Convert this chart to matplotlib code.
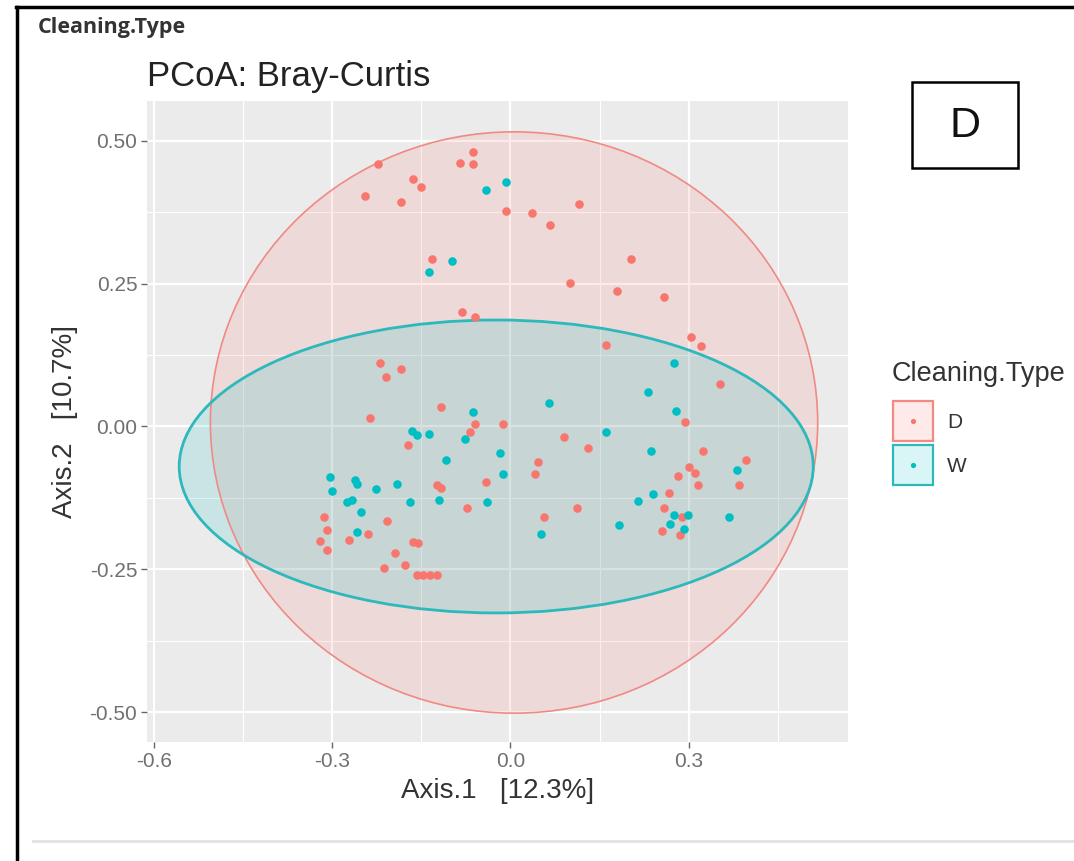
import matplotlib
matplotlib.use("Agg")
import matplotlib.pyplot as plt
from matplotlib.patches import Ellipse, Rectangle
from matplotlib.lines import Line2D

plt.rcParams['font.family'] = ['Liberation Sans', 'DejaVu Sans']

# PCoA coordinates per cleaning type
d_x = [-0.223, -0.085, -0.063, -0.063, -0.164, -0.150, -0.245, -0.184, -0.132, -0.081,
       -0.059, -0.007, 0.037, 0.066, 0.115, 0.203, 0.101, 0.179, 0.259, 0.304,
       0.321, 0.161, -0.220, -0.184, -0.210, -0.117, -0.059, -0.068, -0.237, -0.172,
       -0.042, -0.123, -0.117, -0.073, -0.314, -0.309, -0.321, -0.309, -0.272, -0.240,
       -0.208, -0.164, -0.155, -0.194, -0.177, -0.213, -0.157, -0.147, -0.135, -0.123,
       0.353, 0.294, -0.012, 0.090, 0.130, 0.324, 0.046, 0.041, 0.396, 0.385,
       0.301, 0.311, 0.282, 0.316, 0.267, 0.259, 0.289, 0.255, 0.286, 0.112,
       0.056]
d_y = [0.460, 0.461, 0.481, 0.460, 0.433, 0.419, 0.404, 0.393, 0.293, 0.200,
       0.192, 0.377, 0.374, 0.353, 0.390, 0.293, 0.251, 0.237, 0.227, 0.157,
       0.141, 0.143, 0.111, 0.101, 0.087, 0.034, 0.004, -0.010, 0.015, -0.032,
       -0.097, -0.102, -0.108, -0.143, -0.159, -0.181, -0.201, -0.216, -0.199, -0.188,
       -0.166, -0.202, -0.204, -0.222, -0.243, -0.248, -0.260, -0.260, -0.260, -0.260,
       0.074, 0.008, 0.004, -0.018, -0.038, -0.043, -0.062, -0.083, -0.059, -0.102,
       -0.071, -0.082, -0.087, -0.102, -0.117, -0.143, -0.159, -0.183, -0.190, -0.143,
       -0.159]

w_x = [-0.042, -0.098, -0.137, -0.007, -0.063, -0.076, -0.166, -0.157, -0.137, -0.108,
       -0.017, -0.012, -0.304, -0.301, -0.262, -0.259, -0.226, -0.191, -0.275, -0.267,
       -0.252, -0.169, -0.120, -0.039, -0.259, 0.275, 0.231, 0.064, 0.279, 0.161,
       0.237, 0.382, 0.240, 0.215, 0.275, 0.299, 0.269, 0.292, 0.368, 0.183,
       0.052]
w_y = [0.414, 0.290, 0.271, 0.428, 0.025, -0.022, -0.008, -0.015, -0.013, -0.059,
       -0.046, -0.083, -0.088, -0.113, -0.094, -0.101, -0.109, -0.101, -0.132, -0.129,
       -0.150, -0.132, -0.129, -0.132, -0.185, 0.111, 0.060, 0.041, 0.027, -0.010,
       -0.043, -0.076, -0.118, -0.130, -0.155, -0.155, -0.171, -0.180, -0.159, -0.173,
       -0.188]

# group ellipses: centre, full width, full height
d_ellipse = [(0.006, 0.007), 1.022, 1.018]
w_ellipse = [(-0.024, -0.070), 1.067, 0.513]

groups = ['D', 'W']
colors = {'D': '#F8766D', 'W': '#00BFC4'}
edge_colors = {'D': '#F08A84', 'W': '#2DB8BB'}

x_ticks = [-0.6, -0.3, 0.0, 0.3]
x_labels = ['-0.6', '-0.3', '0.0', '0.3']
y_ticks = [-0.50, -0.25, 0.00, 0.25, 0.50]
y_labels = ['-0.50', '-0.25', '0.00', '0.25', '0.50']

W, H = 1074, 861
fig = plt.figure(figsize=(W / 100, H / 100), dpi=100)
fig.patch.set_facecolor('white')

ax = fig.add_axes([147 / W, 1 - 742 / H, (848 - 147) / W, (742 - 101) / H])
ax.set_facecolor('#EBEBEB')
ax.set_xlim(-0.6117, 0.568)
ax.set_ylim(-0.5525, 0.570)
for s in ax.spines.values():
    s.set_visible(False)

ax.set_xticks(x_ticks)
ax.set_xticklabels(x_labels)
ax.set_yticks(y_ticks)
ax.set_yticklabels(y_labels)
ax.set_xticks([-0.45, -0.15, 0.15, 0.45], minor=True)
ax.set_yticks([-0.375, -0.125, 0.125, 0.375], minor=True)
ax.grid(which='major', color='white', linewidth=1.6)
ax.grid(which='minor', color='white', linewidth=0.8)
ax.set_axisbelow(True)
ax.tick_params(which='major', length=4, width=1, color='#666666',
               labelsize=15, labelcolor='#707070', pad=3)
ax.tick_params(which='minor', length=0)

# ellipses (filled polygons, drawn under the points)
for (c, w, h), g, lw in [(d_ellipse, 'D', 1.2), (w_ellipse, 'W', 2.0)]:
    ax.add_patch(Ellipse(c, w, h, facecolor=colors[g], alpha=0.15,
                         edgecolor='none', zorder=2))
    ax.add_patch(Ellipse(c, w, h, facecolor='none', edgecolor=edge_colors[g],
                         linewidth=lw, zorder=2.5))

ax.scatter(d_x, d_y, s=38, color=colors['D'], linewidths=0, zorder=3)
ax.scatter(w_x, w_y, s=38, color=colors['W'], linewidths=0, zorder=3)

ax.set_xlabel('Axis.1   [12.3%]', fontsize=20, color='#333333', labelpad=5)
ax.set_ylabel('Axis.2   [10.7%]', fontsize=20, color='#333333', labelpad=8)
ax.set_title('PCoA: Bray-Curtis', fontsize=25, color='#222222', loc='left', pad=11)

# overlay in pixel coordinates: frame, panel tag, legend
ov = fig.add_axes([0, 0, 1, 1], facecolor='none')
ov.set_xlim(0, W)
ov.set_ylim(H, 0)
ov.axis('off')

ov.add_line(Line2D([16, W], [7, 7], color='black', linewidth=2.5))
ov.add_line(Line2D([17, 17], [7, H], color='black', linewidth=2.5))
ov.add_line(Line2D([33, W], [841, 841], color='#E2E2E2', linewidth=2))

ov.text(38, 27, 'Cleaning.Type', fontsize=15.5, fontweight='bold',
        color='#333333', va='center', ha='left', family=['Open Sans', 'DejaVu Sans'])

ov.add_patch(Rectangle((912, 82), 106, 86, facecolor='white',
                       edgecolor='black', linewidth=1.8))
ov.text(965, 126, 'D', fontsize=31, ha='center', va='center', color='#111111')

ov.text(892, 374, 'Cleaning.Type', fontsize=19.5, color='#333333',
        va='center', ha='left')
for i, g in enumerate(groups):
    top = 401 + i * 44
    ov.add_patch(Rectangle((893, top), 40, 40, facecolor=colors[g], alpha=0.15,
                           edgecolor='none'))
    ov.add_patch(Rectangle((893, top), 40, 40, facecolor='none',
                           edgecolor=edge_colors[g], linewidth=1.6))
    ov.scatter([913], [top + 20], s=14, color=colors[g], linewidths=0)
    ov.text(947, top + 21, g, fontsize=15, color='#333333', va='center', ha='left')

fig.savefig('out.png', dpi=100)
